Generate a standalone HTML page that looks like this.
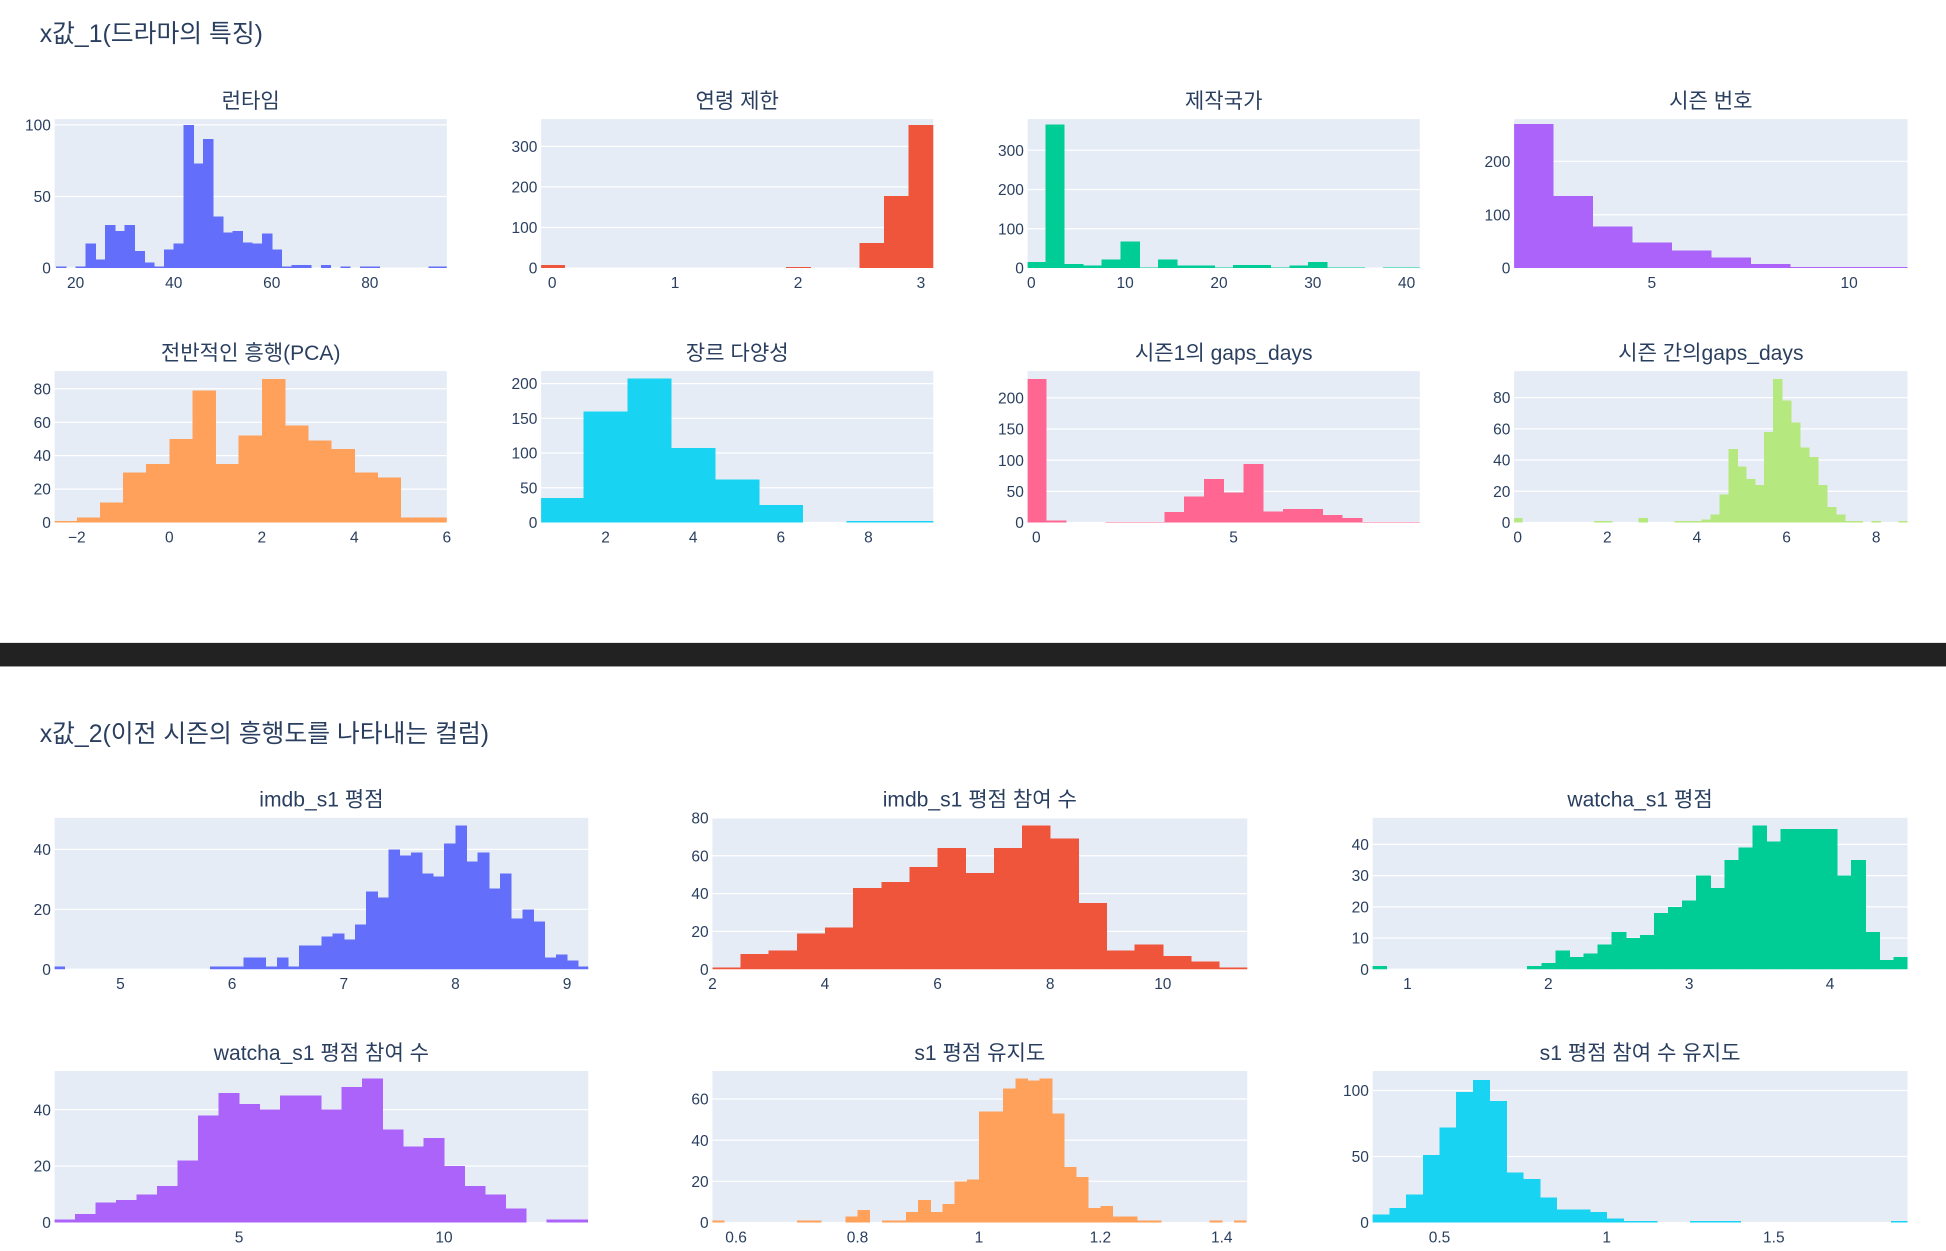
<!DOCTYPE html>
<html><head><meta charset="utf-8"><style>
html,body{margin:0;padding:0;background:#fff;}
svg{display:block;font-family:"Liberation Sans","Noto Sans CJK KR",sans-serif;}
</style></head><body>
<svg id="chart" width="1946" height="1251" viewBox="0 0 1568 1008" preserveAspectRatio="none" xmlns="http://www.w3.org/2000/svg">
<rect x="0" y="0" width="1568" height="1008" fill="#fff"/>
<rect x="0" y="518" width="1568" height="19" fill="#222"/>
<text x="32" y="34" font-size="20" fill="#2a3f5f">x값_1(드라마의 특징)</text>
<text x="32" y="598" font-size="20" fill="#2a3f5f">x값_2(이전 시즌의 흥행도를 나타내는 컬럼)</text>
</svg>
<script>
// ---- data: histogram titles, bin starts, bin widths, counts ----
const titles = ["런타임","연령 제한","제작국가","시즌 번호","전반적인 흥행(PCA)","장르 다양성","시즌1의 gaps_days","시즌 간의gaps_days","imdb_s1 평점","imdb_s1 평점 참여 수","watcha_s1 평점","watcha_s1 평점 참여 수","s1 평점 유지도","s1 평점 참여 수 유지도"];
const binStart = [16,-0.1,-0.5,1.5,-2.5,0.5,-0.25,-0.1,4.4,2.0,0.75,0.5,0.56,0.3];
const binWidth = [2,0.2,2,1,0.5,1,0.5,0.2,0.1,0.5,0.1,0.5,0.02,0.05];
const counts0 = [1,0,1,17,6,30,26,30,12,4,1,13,17,100,73,90,36,25,26,18,17,24,13,1,2,2,0,2,0,1,0,1,1,0,0,0,0,0,1,1];
const counts1 = [8,0,0,0,0,0,0,0,0,0,3,0,0,62,178,352];
const counts2 = [16,365,10,7,22,67,1,22,6,6,2,8,8,2,6,16,2,2,0,2,2];
const counts3 = [270,135,78,48,33,20,8,2,2,2];
const counts4 = [1,3,12,30,35,50,79,35,52,86,58,49,44,30,27,3,3];
const counts5 = [35,160,207,107,62,25,0,2,2];
const counts6 = [230,3,0,0,1,1,1,17,42,70,48,94,18,22,22,12,7,1,1,1];
const counts7 = [3,0,0,0,0,0,0,0,0,1,1,0,0,0,3,0,0,0,1,1,1,2,5,18,47,36,28,24,58,92,78,64,48,42,24,10,5,1,1,0,1,0,0,1];
const counts8 = [1,0,0,0,0,0,0,0,0,0,0,0,0,0,1,1,1,4,4,1,4,1,8,8,11,12,10,15,26,24,40,38,39,32,31,42,48,36,39,27,32,17,20,16,4,5,3,1];
const counts9 = [1,8,10,19,22,43,46,54,64,51,64,76,69,35,10,13,7,4,1];
const counts10 = [1,0,0,0,0,0,0,0,0,0,0,1,2,6,4,5,8,12,10,11,18,20,22,30,26,35,39,46,41,45,45,45,45,30,35,12,3,4];
const counts11 = [1,3,7,8,10,13,22,38,46,42,40,45,45,40,48,51,33,27,30,20,13,10,5,0,1,1];
const counts12 = [1,0,0,0,0,0,0,1,1,0,0,3,6,0,1,1,5,11,5,9,20,21,54,54,65,70,69,70,53,27,22,7,8,3,3,1,1,0,0,0,0,1,0,1];
const counts13 = [6,11,21,51,72,99,108,92,38,33,19,10,10,8,3,1,1,0,0,1,1,1,0,0,0,0,0,0,0,0,0,1];
const xDomainMin = [15.7,-0.09,-0.4,1.51,-2.48,0.53,-0.22,-0.08,4.41,2.0,0.753,0.5,0.561,0.30];
const xDomainMax = [95.7,3.1,41.4,11.48,6.0,9.48,9.72,8.7,9.19,11.5,4.55,13.52,1.442,1.90];
const yDomainMax = [104,367,379,279,90.6,218,243,97,50.5,80,48.5,53.7,73.6,114.7];
const xTicks = [[20,40,60,80],[0,1,2,3],[0,10,20,30,40],[5,10],[-2,0,2,4,6],[2,4,6,8],[0,5],[0,2,4,6,8],[5,6,7,8,9],[2,4,6,8,10],[1,2,3,4],[5,10],[0.6,0.8,1,1.2,1.4],[0.5,1,1.5]];
const yTicks = [[0,50,100],[0,100,200,300],[0,100,200,300],[0,100,200],[0,20,40,60,80],[0,50,100,150,200],[0,50,100,150,200],[0,20,40,60,80],[0,20,40],[0,20,40,60,80],[0,10,20,30,40],[0,20,40],[0,20,40,60],[0,50,100]];
const allCounts = [counts0,counts1,counts2,counts3,counts4,counts5,counts6,counts7,counts8,counts9,counts10,counts11,counts12,counts13];
const colors = ["#636efa","#EF553B","#00cc96","#ab63fa","#FFA15A","#19d3f3","#FF6692","#B6E880","#636efa","#EF553B","#00cc96","#ab63fa","#FFA15A","#19d3f3"];
// ---- layout ----
const boxes = [
 [44,96,316,120],[436,96,316,120],[828,96,316,120],[1220,96,317,120],
 [44,299,316,122],[436,299,316,122],[828,299,316,122],[1220,299,317,122],
 [44,659,430,122],[574,659,431,122],[1106,659,431,122],
 [44,863,430,122],[574,863,431,122],[1106,863,431,122]];
const NS="http://www.w3.org/2000/svg";
const svg=document.getElementById('chart');
function mk(tag,attrs,parent){const e=document.createElementNS(NS,tag);for(const k in attrs)e.setAttribute(k,attrs[k]);(parent||svg).appendChild(e);return e;}
function fmt(v){return v<0?'\u2212'+Math.abs(v):String(v);}
boxes.forEach((b,i)=>{
  const [L,T,W,H]=b;
  const g=mk('g',{});
  
  
  const xs=v=>L+(v-xDomainMin[i])/(xDomainMax[i]-xDomainMin[i])*W;
  const ys=v=>T+H-v/yDomainMax[i]*H;
  const bg=mk('rect',{x:L,y:T,width:W,height:H,fill:'#e5ecf6'},g);
  
  
  yTicks[i].forEach(t=>{
    const y=ys(t);
    const gl=mk('line',{x1:L,x2:L+W,y1:y,y2:y,stroke:'#fff','stroke-width':1},g);
    
    
    const tl=mk('text',{x:L-3,y:y+4.5,'font-size':12.5,fill:'#2a3f5f','text-anchor':'end'},g);
    tl.textContent=fmt(t);
    
    
  });
  const cs=allCounts[i];
  const clip='c'+i;
  const cp=mk('clipPath',{id:clip},g);mk('rect',{x:L,y:T,width:W,height:H},cp);
  const bars=mk('g',{'clip-path':'url(#'+clip+')','shape-rendering':'crispEdges'},g);
  cs.forEach((c,k)=>{
    if(c<=0)return;
    const x0=xs(binStart[i]+k*binWidth[i]), x1=xs(binStart[i]+(k+1)*binWidth[i]);
    const r=mk('rect',{x:x0,y:ys(c),width:Math.max(0,x1-x0)+0.4,height:ys(0)-ys(c),fill:colors[i]},bars);
    
    
  });
  xTicks[i].forEach(t=>{
    const tl=mk('text',{x:xs(t),y:T+H+16,'font-size':12.5,fill:'#2a3f5f','text-anchor':'middle'},g);
    tl.textContent=fmt(t);
    
    
  });
  const tt=mk('text',{x:L+W/2,y:T-9,'font-size':17,fill:'#2a3f5f','text-anchor':'middle'},g);
  tt.textContent=titles[i];
  
  
});
</script>
</body></html>
